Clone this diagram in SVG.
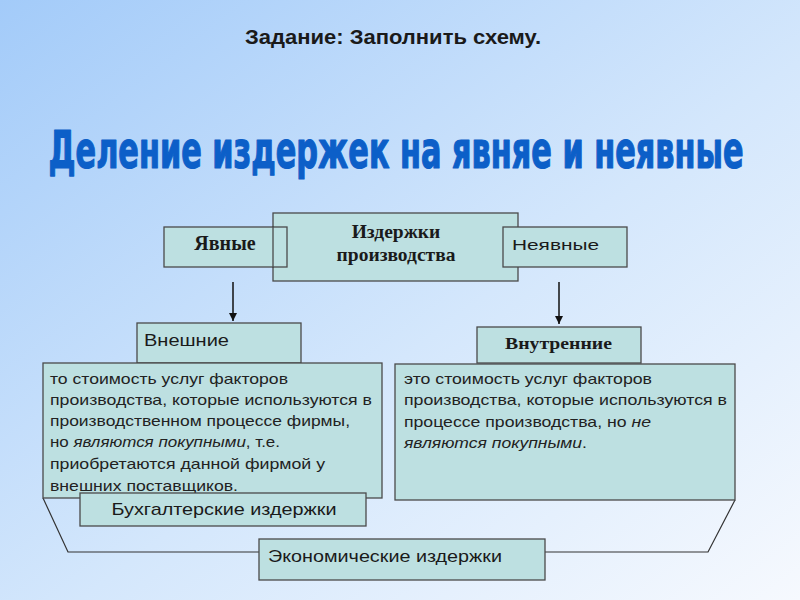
<svg xmlns="http://www.w3.org/2000/svg" width="800" height="600" viewBox="0 0 800 600">
<defs>
<linearGradient id="bg" x1="0" y1="0" x2="1" y2="1">
<stop offset="0" stop-color="#a3cbf9"/>
<stop offset="0.55" stop-color="#d4e7fc"/>
<stop offset="1" stop-color="#f6f9fe"/>
</linearGradient>
<marker id="arr" viewBox="0 0 10 10" refX="10" refY="5" markerWidth="8" markerHeight="8" markerUnits="userSpaceOnUse" orient="auto">
<path d="M0,0 L10,5 L0,10 z" fill="#111"/>
</marker>
</defs>
<style>
.box{fill:#bde0e1;stroke:#4a4a4a;stroke-width:1.3}
.frame{fill:none;stroke:#4a4a4a;stroke-width:1.3}
.sans{font-family:"Liberation Sans",Arial,sans-serif;fill:#1a1a1a}
.serifb{font-family:"Liberation Serif","Times New Roman",serif;font-weight:bold;fill:#1a1a1a}
.desc{font-family:"Liberation Sans",Arial,sans-serif;font-size:15px;fill:#222}
.line{fill:none;stroke:#333;stroke-width:1.2}
</style>
<rect width="800" height="600" fill="url(#bg)"/>
<text x="393" y="44" text-anchor="middle" class="sans" font-size="20" font-weight="bold" textLength="296" lengthAdjust="spacingAndGlyphs" fill="#111">Задание: Заполнить схему.</text>
<text x="0" y="0" transform="translate(396,168) scale(1,1.55)" text-anchor="middle" font-family="'DejaVu Sans Condensed','DejaVu Sans',sans-serif" font-weight="bold" font-size="33" fill="#0c5fc8" stroke="#0c5fc8" stroke-width="0.8" stroke-linejoin="round" textLength="695" lengthAdjust="spacingAndGlyphs">Деление издержек на явняе и неявные</text>

<g id="connectors">
<line x1="233" y1="282" x2="233" y2="321" stroke="#111" stroke-width="1.5" marker-end="url(#arr)"/>
<line x1="559" y1="282" x2="559" y2="324" stroke="#111" stroke-width="1.5" marker-end="url(#arr)"/>
<polyline class="line" points="43,498 68,552 259,552"/>
<polyline class="line" points="735,500 708,552 545,552"/>
</g>

<g id="costs">
<rect class="box" x="273" y="213" width="245" height="68"/>
<text x="396" y="238" text-anchor="middle" class="serifb" font-size="19.5">Издержки</text>
<text x="396" y="261" text-anchor="middle" class="serifb" font-size="19.5">производства</text>
</g>
<g id="explicit">
<rect class="box" x="164" y="227" width="123" height="40"/>
<text x="225" y="250" text-anchor="middle" class="serifb" font-size="20">Явные</text>
<line class="frame" x1="273" y1="226" x2="273" y2="268"/>
</g>
<g id="implicit">
<rect class="box" x="503" y="227" width="124" height="40"/>
<text x="512" y="250" class="sans" font-size="15.5" textLength="87" lengthAdjust="spacingAndGlyphs">Неявные</text>
</g>
<g id="external">
<rect class="box" x="137" y="323" width="164" height="40"/>
<text x="144" y="346" class="sans" font-size="16" textLength="85" lengthAdjust="spacingAndGlyphs">Внешние</text>
</g>
<g id="internal">
<rect class="box" x="477" y="327" width="164" height="36"/>
<text x="505" y="349" class="serifb" font-size="17" textLength="107" lengthAdjust="spacingAndGlyphs">Внутренние</text>
</g>
<g id="external-desc">
<rect class="box" x="43" y="363" width="339" height="135"/>
<text class="desc" x="50" y="384" textLength="238" lengthAdjust="spacingAndGlyphs">то стоимость услуг факторов</text>
<text class="desc" x="50" y="405" textLength="322" lengthAdjust="spacingAndGlyphs">производства, которые используются в</text>
<text class="desc" x="50" y="426" textLength="300" lengthAdjust="spacingAndGlyphs">производственном процессе фирмы,</text>
<text class="desc" x="50" y="447" textLength="230" lengthAdjust="spacingAndGlyphs">но <tspan font-style="italic">являются покупными</tspan>, т.е.</text>
<text class="desc" x="50" y="469" textLength="275" lengthAdjust="spacingAndGlyphs">приобретаются данной фирмой у</text>
<text class="desc" x="50" y="491" textLength="188" lengthAdjust="spacingAndGlyphs">внешних поставщиков.</text>
</g>
<g id="internal-desc">
<rect class="box" x="395" y="364" width="340" height="136"/>
<text class="desc" x="404" y="384" textLength="248" lengthAdjust="spacingAndGlyphs">это стоимость услуг факторов</text>
<text class="desc" x="404" y="405" textLength="323" lengthAdjust="spacingAndGlyphs">производства, которые используются в</text>
<text class="desc" x="404" y="427" textLength="247" lengthAdjust="spacingAndGlyphs">процессе производства, но <tspan font-style="italic">не</tspan></text>
<text class="desc" x="404" y="448" textLength="183" lengthAdjust="spacingAndGlyphs"><tspan font-style="italic">являются покупными</tspan>.</text>
</g>
<g id="accounting">
<rect class="box" x="80" y="493" width="286" height="33"/>
<text x="224" y="515" text-anchor="middle" class="sans" font-size="17" textLength="225" lengthAdjust="spacingAndGlyphs">Бухгалтерские издержки</text>
</g>
<g id="economic">
<rect class="box" x="259" y="539" width="286" height="41"/>
<text x="268" y="562" class="sans" font-size="17" textLength="234" lengthAdjust="spacingAndGlyphs">Экономические издержки</text>
</g>
</svg>
